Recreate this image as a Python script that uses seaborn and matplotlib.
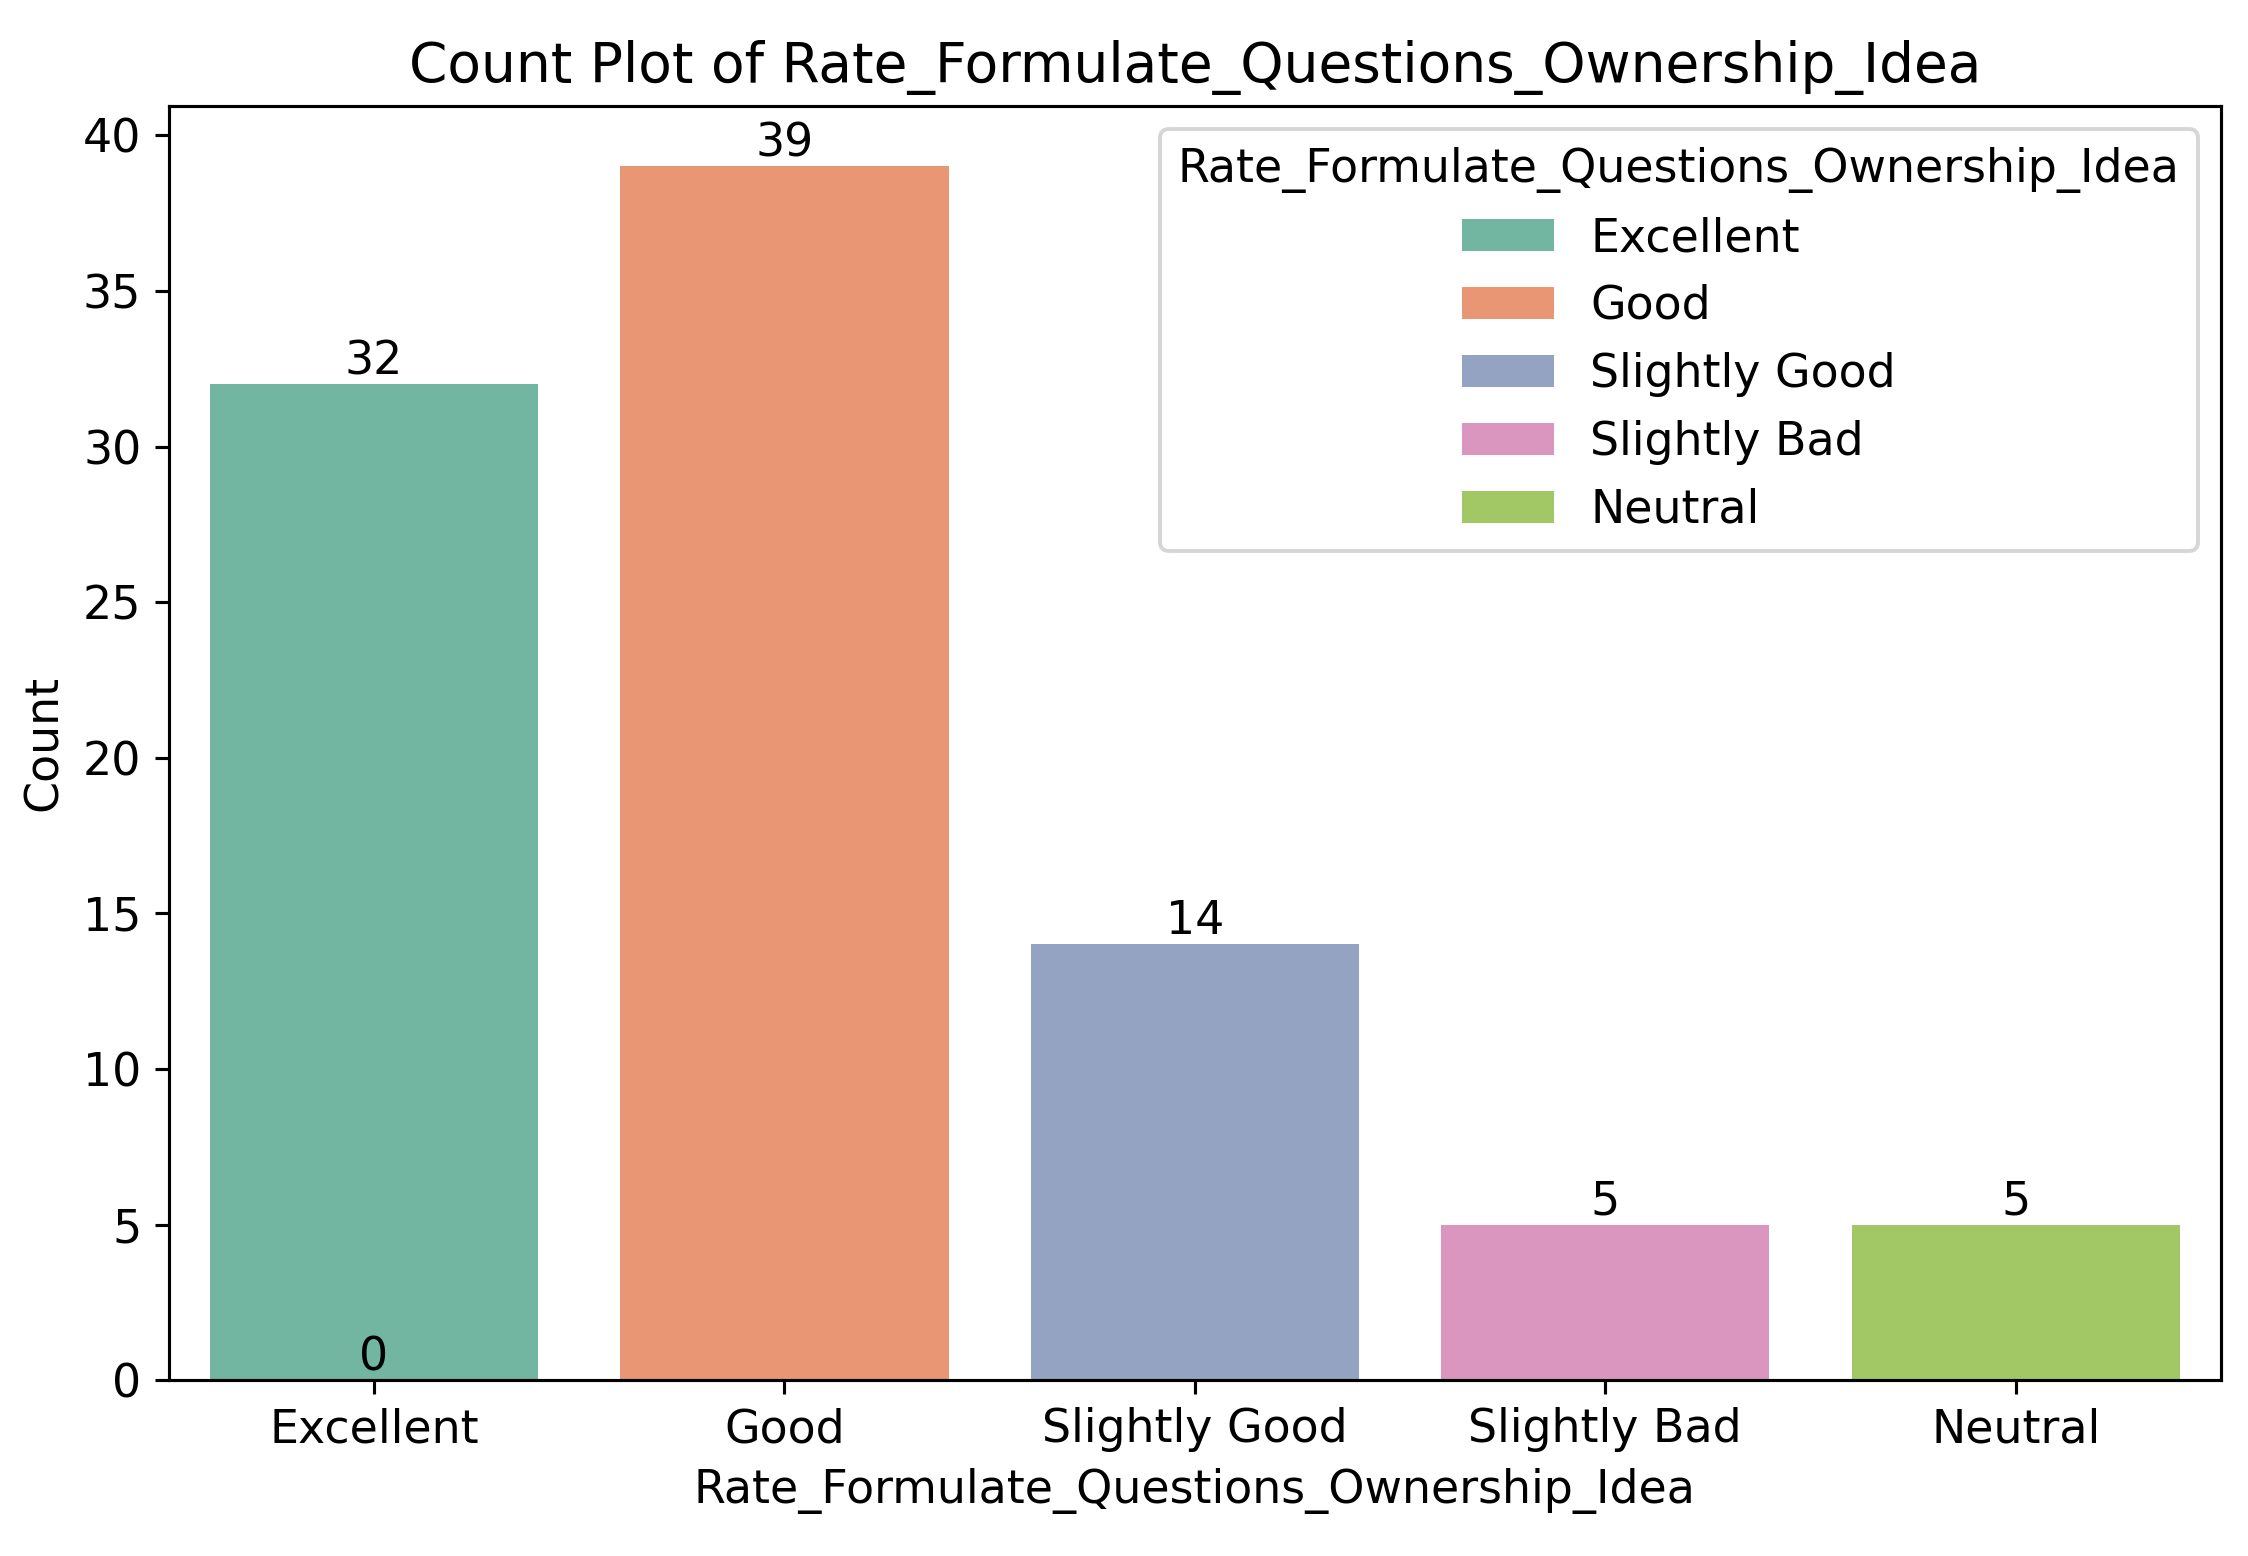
import pandas as pd
import matplotlib
matplotlib.use("Agg")
import matplotlib.pyplot as plt
import seaborn as sns

col = "Rate_Formulate_Questions_Ownership_Idea"

# categories and their counts
categories = ["Excellent", "Good", "Slightly Good", "Slightly Bad", "Neutral"]
counts = [32, 39, 14, 5, 5]

# expand into one row per response so countplot does the counting
rows = []
for cat, n in zip(categories, counts):
    rows += [cat] * n
df = pd.DataFrame({col: rows})

plt.rcParams["font.size"] = 11.75

dpi = 281
fig, ax = plt.subplots(figsize=(2248 / dpi, 1556 / dpi), dpi=dpi)
sns.countplot(data=df, x=col, hue=col, order=categories, hue_order=categories,
              palette="Set2", legend=True, ax=ax)

for c in ax.containers:
    ax.bar_label(c)
# stray zero label that shows up at the first bar's base
ax.text(0, 0, "0", ha="center", va="bottom")

ax.set_title(f"Count Plot of {col}")
ax.set_xlabel(col)
ax.set_ylabel("Count")
sns.move_legend(ax, "upper right", title=col)

plt.subplots_adjust(left=0.075, right=0.988, top=0.932, bottom=0.113)
plt.savefig("out.png", dpi=dpi)
